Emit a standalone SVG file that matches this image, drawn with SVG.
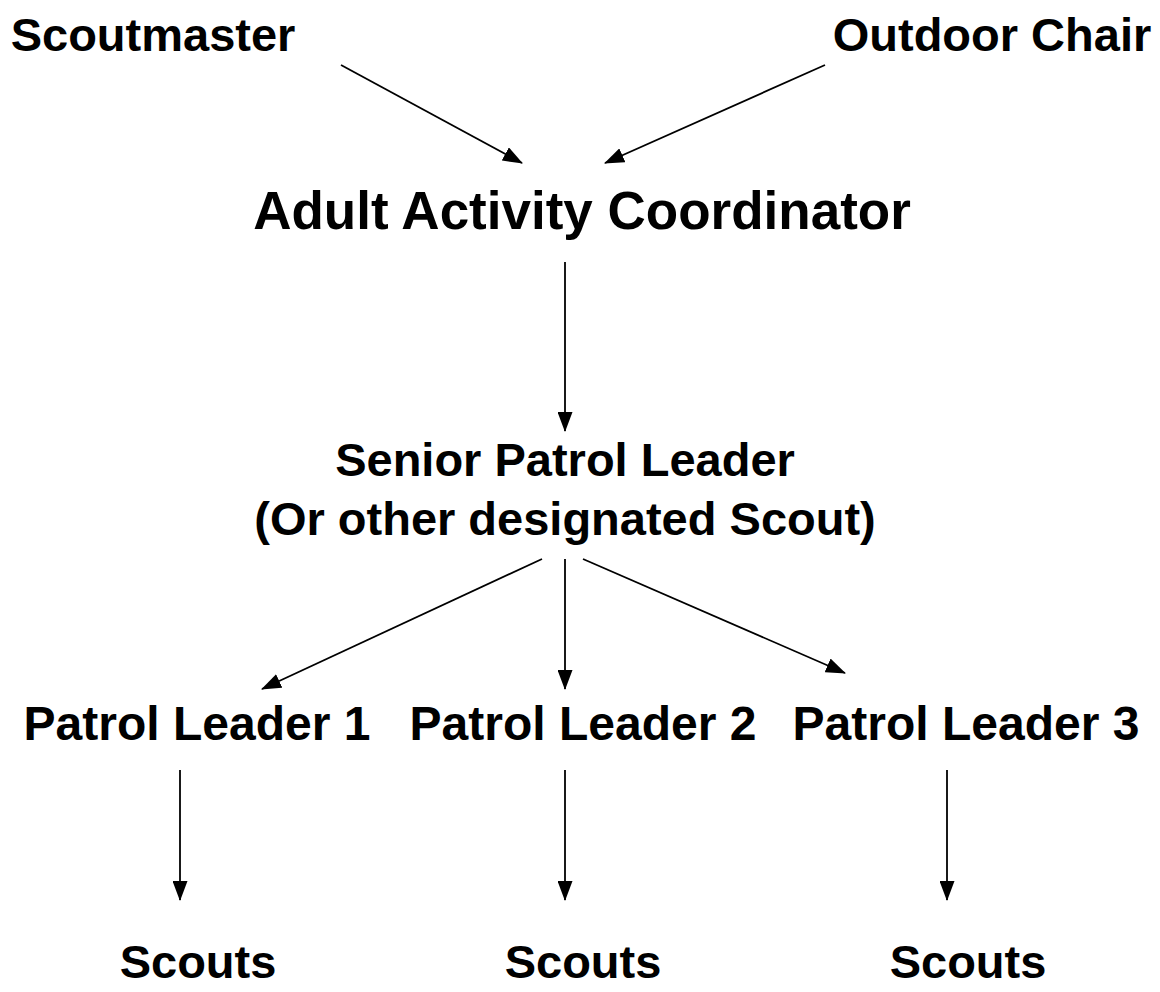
<svg xmlns="http://www.w3.org/2000/svg" width="1160" height="992" viewBox="0 0 1160 992">
<defs>
<style>
text{font-family:"Liberation Sans",Arial,sans-serif;font-weight:bold;fill:#000;text-anchor:middle}
.t{font-size:47px}
.p{font-size:48px}
.b{font-size:53px}
.c line{stroke:#000;stroke-width:1.8}
</style>
<marker id="ah" viewBox="0 0 20 15" refX="19" refY="7.5" markerWidth="20" markerHeight="15" markerUnits="userSpaceOnUse" orient="auto">
<path d="M0,0 L20,7.5 L0,15 Z" fill="#000"/>
</marker>
</defs>
<rect width="1160" height="992" fill="#fff"/>
<g id="scoutmaster"><text class="t" x="153" y="51">Scoutmaster</text></g>
<g id="outdoor-chair"><text class="t" x="992" y="51">Outdoor Chair</text></g>
<g id="aac"><text class="b" x="582" y="229">Adult Activity Coordinator</text></g>
<g id="spl"><text class="t" x="565" y="476">Senior Patrol Leader</text><text class="t" x="565" y="535">(Or other designated Scout)</text></g>
<g id="pl1"><text class="p" x="197" y="740">Patrol Leader 1</text></g>
<g id="pl2"><text class="p" x="583" y="740">Patrol Leader 2</text></g>
<g id="pl3"><text class="p" x="966" y="740">Patrol Leader 3</text></g>
<g id="scouts1"><text class="t" x="198" y="978">Scouts</text></g>
<g id="scouts2"><text class="t" x="583" y="978">Scouts</text></g>
<g id="scouts3"><text class="t" x="968" y="978">Scouts</text></g>
<g class="c" id="connectors">
<line x1="341" y1="65" x2="522" y2="163" marker-end="url(#ah)"/>
<line x1="825" y1="65" x2="605" y2="163" marker-end="url(#ah)"/>
<line x1="565" y1="262" x2="565" y2="431" marker-end="url(#ah)"/>
<line x1="542" y1="559" x2="262" y2="689" marker-end="url(#ah)"/>
<line x1="565" y1="559" x2="565" y2="689" marker-end="url(#ah)"/>
<line x1="583" y1="559" x2="845" y2="673" marker-end="url(#ah)"/>
<line x1="180" y1="770" x2="180" y2="900" marker-end="url(#ah)"/>
<line x1="565" y1="770" x2="565" y2="900" marker-end="url(#ah)"/>
<line x1="947" y1="770" x2="947" y2="900" marker-end="url(#ah)"/>
</g>
</svg>
